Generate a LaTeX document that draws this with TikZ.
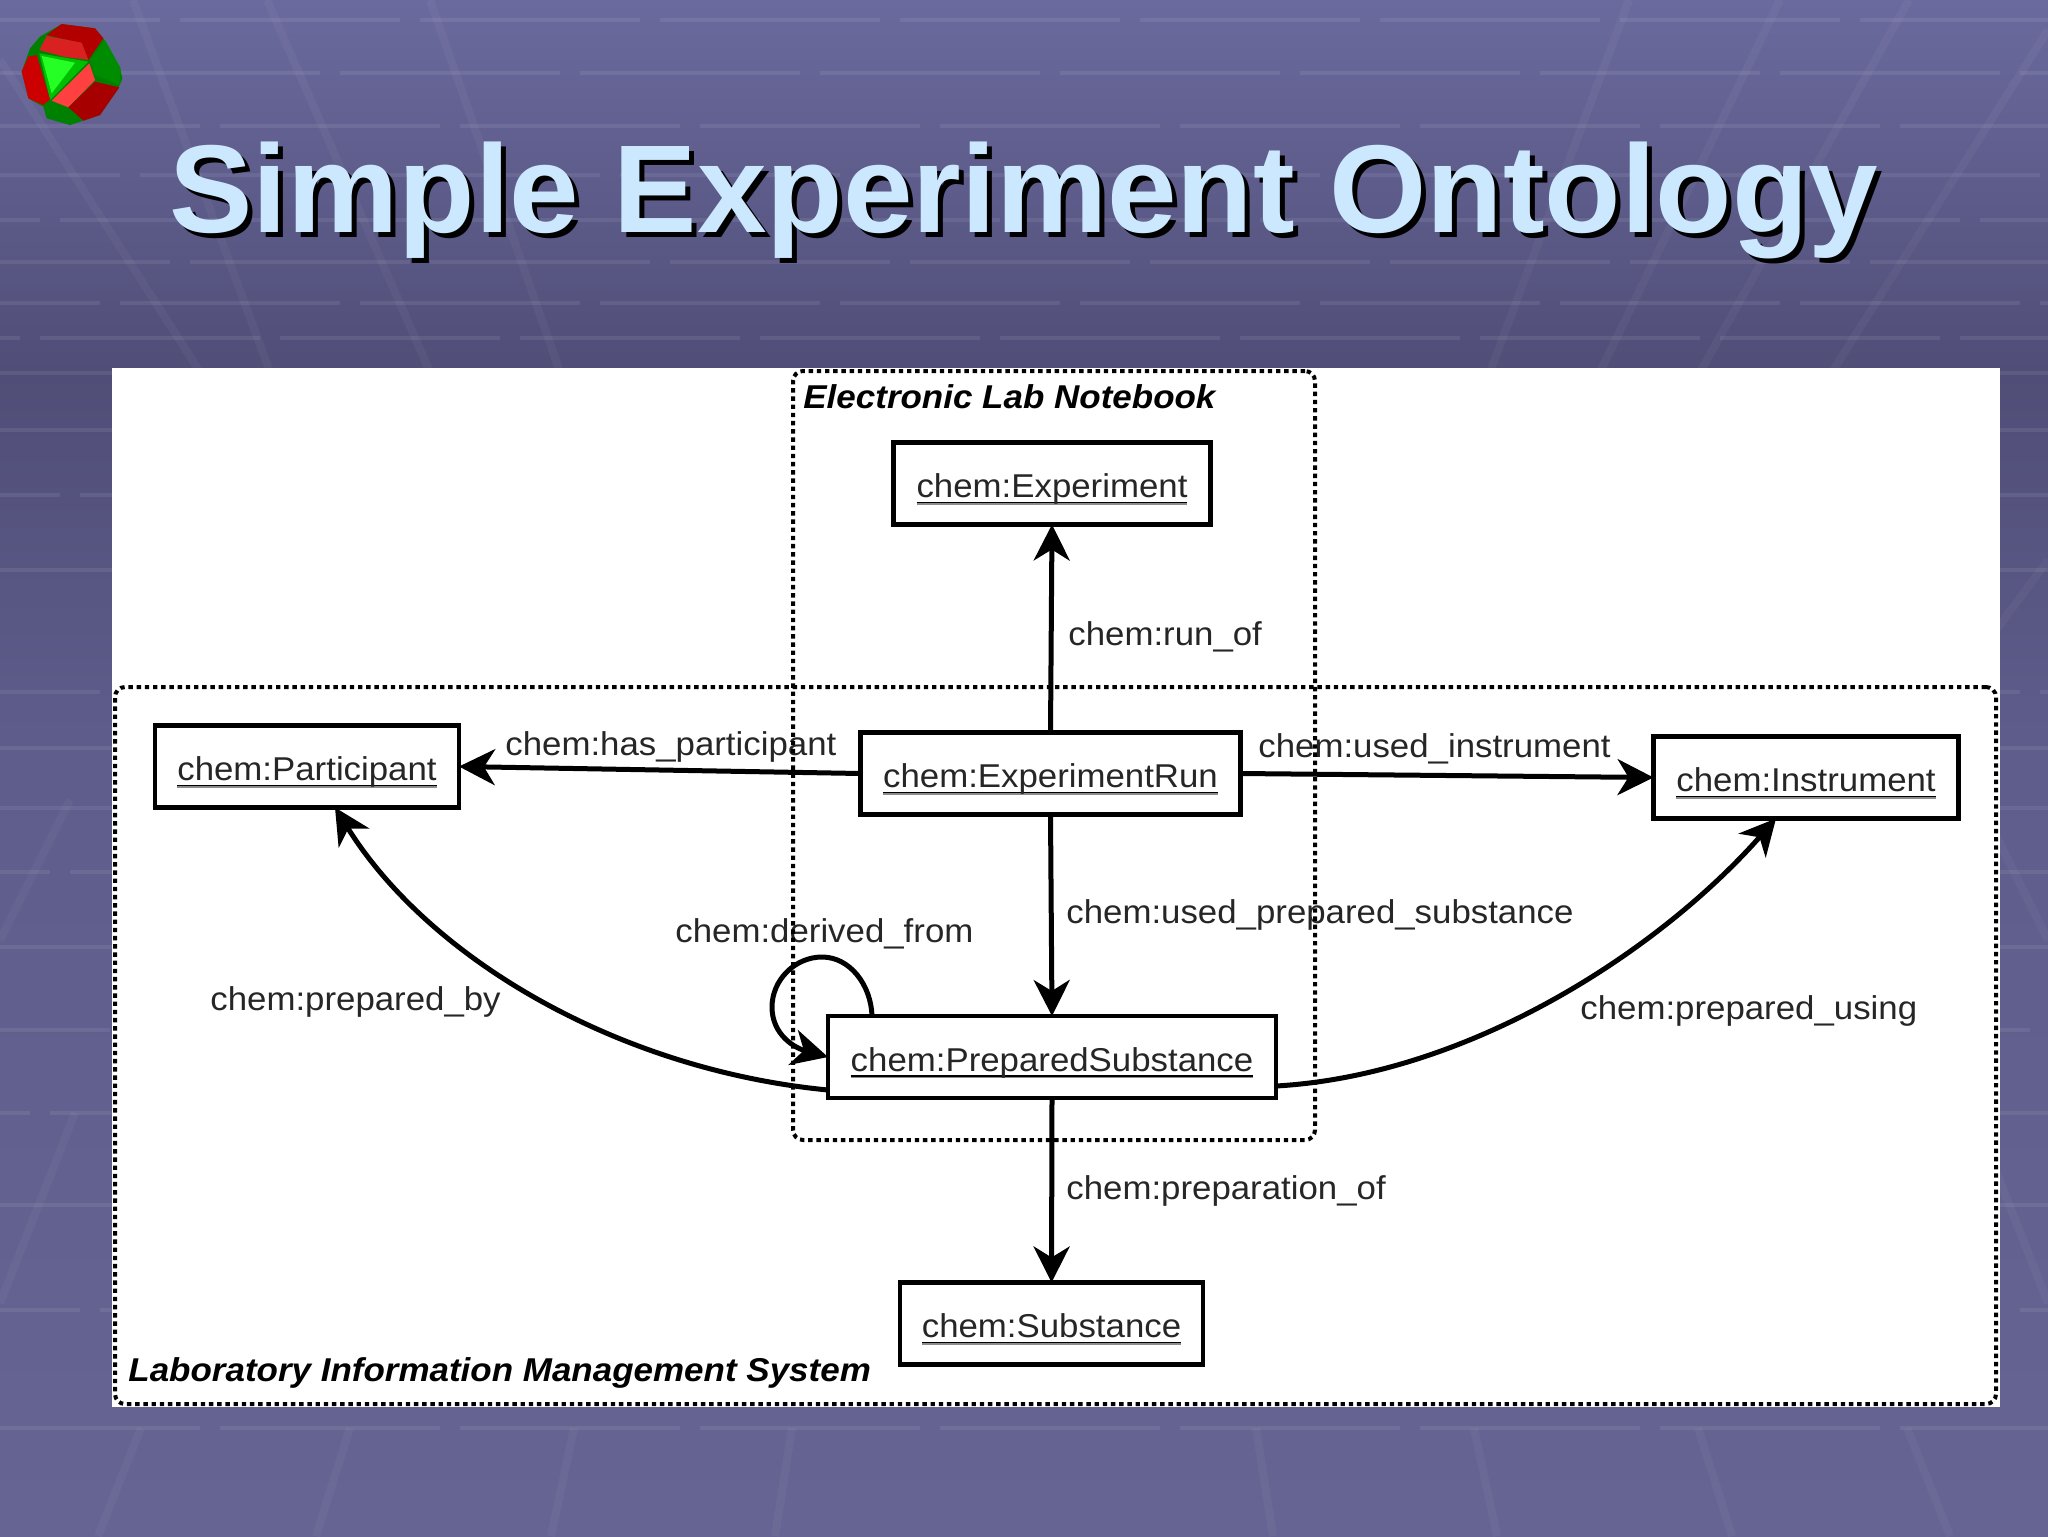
\documentclass[tikz,border=0pt]{standalone}
\usepackage{fontspec}
\usetikzlibrary{arrows.meta,calc}
\setmainfont{Liberation Sans}
\newfontfamily\lblfont[FakeStretch=1.055]{Liberation Sans}
\newfontfamily\framefont[FakeStretch=1.06]{Liberation Sans}
\definecolor{bgTop}{HTML}{6B6A9E}
\definecolor{bgMid}{HTML}{504E77}
\definecolor{bgLow}{HTML}{5E5D8C}
\definecolor{bgEnd}{HTML}{656493}
\definecolor{titleBlue}{HTML}{CCE8FF}
\newcommand\ulbl[1]{\setbox0\hbox{#1}\rlap{\color{black!45}\rule[-3.6pt]{\wd0}{1.1pt}}\rlap{\color{black}\rule[-2.8pt]{\wd0}{0.7pt}}\box0}
\tikzset{
  x=0.5pt,y=-0.5pt,
  gridh/.style={draw=white,opacity=.08,line width=2.2pt,dash pattern=on 110pt off 10pt},
  grids/.style={draw=white,opacity=.04,line width=4pt},
  classbox/.style={draw=black,fill=white,line width=2.4pt,outer sep=0pt,inner sep=0pt,
    minimum height=41pt,text height=15pt,text depth=1pt,text=black!85,
    font=\fontsize{16.5}{18}\lblfont},
  edgelbl/.style={anchor=base west,inner sep=0pt,text=black!85,font=\fontsize{16.5}{18}\lblfont},
  framelbl/.style={anchor=base west,inner sep=0pt,font=\fontsize{16.5}{18}\framefont\bfseries\itshape},
  conn/.style={draw=black,line width=2.5pt,-{Stealth[length=18pt,width=18pt,inset=5.5pt]}},
  dotframe/.style={draw=black,line width=2pt,dash pattern=on 2.2pt off 1.9pt,rounded corners=5pt,
    inner sep=0pt,outer sep=0pt},
  titletxt/.style={anchor=base west,inner sep=0pt,font=\fontsize{62.5}{66}\selectfont\bfseries},
}
\begin{document}
\begin{tikzpicture}
\path[use as bounding box] (0,0) rectangle (2048,1536);
% background
\fill[top color=bgTop,bottom color=bgMid] (0,0) rectangle (2048,372);
\fill[top color=bgMid,bottom color=bgLow] (0,371) rectangle (2048,760);
\fill[top color=bgLow,bottom color=bgEnd] (0,759) rectangle (2048,1536);
\foreach \yy/\ph in {20/30,73/70,126/10,175/50,220/90,262/25,303/60,338/100,373/40,430/15,495/80,570/30,692/60,748/5,808/45,872/85,947/20,1030/55,1113/95,1205/35,1310/70,1428/10}
  \draw[gridh,dash phase=\ph pt] (0,\yy) -- (2048,\yy);
\foreach \ax/\ay/\bx/\by in {1629/0/1490/372,1780/0/1600/372,1909/0/1700/372,2048/30/1832/372,133/0/270/372,267/0/430/372,0/60/200/372,430/0/560/372,1832/372/1700/560,2048/560/1900/760,0/1303/75/1113,2048/1303/1973/1113,98/1536/141/1428,316/1536/350/1428,551/1536/574/1428,775/1536/792/1428,1950/1536/1907/1428,1732/1536/1698/1428,1497/1536/1474/1428,1273/1536/1256/1428,0/940/70/800,2048/940/1978/800}
  \draw[grids] (\ax,\ay) -- (\bx,\by);
% icon
\begin{scope}[x=0.1667pt,y=-0.1667pt]
\fill[green!50!black] (185,72)--(285,85)--(310,115)--(360,205)--(367,235)--(355,265)--(300,345)--(210,375)--(140,355)--(130,320)--(85,295)--(65,215)--(90,145)--(120,110)--cycle;
\fill[red!70!black] (185,72)--(285,85)--(310,115)--(265,180)--(245,130)--(140,105)--cycle;
\fill[red!85!white!85!black] (140,108)--(245,128)--(265,180)--(190,170)--(118,150)--cycle;
\fill[green!75!black] (118,160)--(265,185)--(150,300)--cycle;
\fill[green!85!white] (125,168)--(225,188)--(155,280)--cycle;
\fill[red!80!black] (110,165)--(150,298)--(130,315)--(85,295)--(65,215)--(85,170)--cycle;
\fill[red!75!white] (268,190)--(285,240)--(205,322)--(155,302)--cycle;
\fill[red!65!black] (285,245)--(358,262)--(300,345)--(250,362)--(205,322)--cycle;
\fill[green!55!black] (270,180)--(315,120)--(362,205)--(358,255)--(285,225)--cycle;
\end{scope}
% title
\node[titletxt,text=black] (titleshadow) at (174,237) {Simple Experiment Ontology};
\node[titletxt,text=titleBlue] (title) at (169,232) {Simple Experiment Ontology};
% panel
\fill[white] (112,368) rectangle (2000,1407);
% class boxes
\node[classbox,minimum width=158.5pt] (exp) at (1052,483.5) {\ulbl{chem:Experiment}};
\node[classbox,minimum width=190pt] (run) at (1050.5,773.5) {\ulbl{chem:ExperimentRun}};
\node[classbox,minimum width=152pt] (part) at (307,766.5) {\ulbl{chem:Participant}};
\node[classbox,minimum width=152.5pt] (inst) at (1806,777.5) {\ulbl{chem:Instrument}};
\node[classbox,minimum width=224pt] (prep) at (1052,1057) {\ulbl{chem:PreparedSubstance}};
\node[classbox,minimum width=151.5pt] (sub) at (1051.5,1323.5) {\ulbl{chem:Substance}};
% connectors
\draw[conn] (run.north) -- (exp.south);
\draw[conn] (run.west) -- (part.east);
\draw[conn] (run.east) -- (inst.west);
\draw[conn] (run.south) -- (prep.north);
\draw[conn] (prep.south) -- (sub.north);
\draw[conn] ([yshift=-16.5pt]prep.west) .. controls (620,1070) and (430,960) .. ([xshift=14pt]part.south);
\draw[conn] ([yshift=-14.5pt]prep.east) .. controls (1470,1075) and (1660,950) .. ([xshift=-15pt]inst.south);
\coordinate (looptop) at (822,957);
\coordinate (loopleft) at (772,1007);
\draw[conn] ([xshift=22pt]prep.north west) .. controls (871,985) and (850,957) .. (looptop) .. controls (795,957) and (772,980) .. (loopleft) .. controls (772,1035) and (795,1048) .. (prep.west);
% edge labels
\node[edgelbl] (l1) at (1068,645) {chem:run\_of};
\node[edgelbl] (l2) at (505,755) {chem:has\_participant};
\node[edgelbl] (l3) at (1258,757) {chem:used\_instrument};
\node[edgelbl] (l4) at (1066,923) {chem:used\_prepared\_substance};
\node[edgelbl] (l5) at (675,942) {chem:derived\_from};
\node[edgelbl] (l6) at (210,1010) {chem:prepared\_by};
\node[edgelbl] (l7) at (1580,1019) {chem:prepared\_using};
\node[edgelbl] (l8) at (1066,1199) {chem:preparation\_of};
% frames
\node[dotframe,minimum width=261pt,minimum height=384.5pt] (eln) at (1054,755.5) {};
\node[dotframe,minimum width=940.5pt,minimum height=358.5pt] (lims) at (1055.5,1045.5) {};
\node[framelbl] (elnlbl) at (803,408) {Electronic Lab Notebook};
\node[framelbl] (limslbl) at (128,1381) {Laboratory Information Management System};
\end{tikzpicture}
\end{document}
